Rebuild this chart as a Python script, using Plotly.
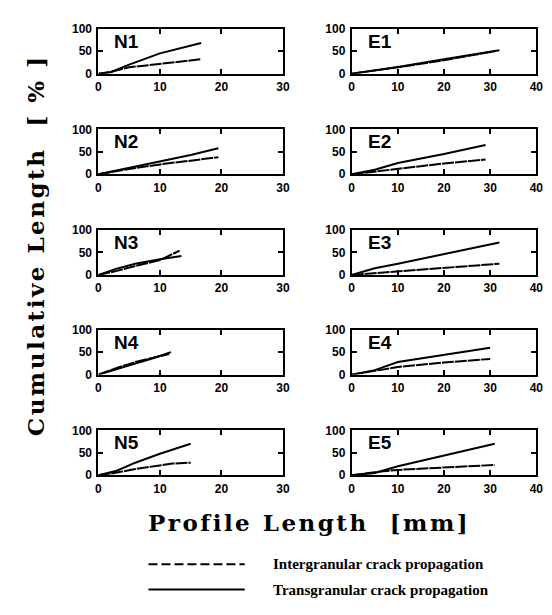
import plotly.graph_objects as go

# ---------------- data ----------------
panel_names = ["N1", "E1", "N2", "E2", "N3", "E3", "N4", "E4", "N5", "E5"]

N1_trans_x = [0, 2, 5, 10, 16.7]
N1_trans_y = [0, 3, 20, 45, 68]
N1_inter_x = [0, 2, 5, 10, 15, 16.7]
N1_inter_y = [0, 4, 14, 22, 29, 32]

N2_trans_x = [0, 5, 10, 15, 19.5]
N2_trans_y = [0, 14, 28, 43, 58]
N2_inter_x = [0, 5, 10, 15, 19.5]
N2_inter_y = [0, 12, 22, 31, 38]

N3_trans_x = [0, 3, 6, 10, 13.5]
N3_trans_y = [0, 14, 25, 35, 42]
N3_inter_x = [0, 3, 6, 10, 13.2]
N3_inter_y = [0, 9, 20, 33, 54]

N4_trans_x = [0, 3, 6, 9, 11.8]
N4_trans_y = [0, 12, 25, 37, 50]
N4_inter_x = [0, 3, 6, 9, 11.5]
N4_inter_y = [0, 15, 28, 38, 46]

N5_trans_x = [0, 3, 6, 10, 15]
N5_trans_y = [0, 10, 28, 48, 70]
N5_inter_x = [0, 3, 6, 10, 12, 15]
N5_inter_y = [0, 6, 14, 22, 26, 28]

E1_trans_x = [0, 10, 20, 32]
E1_trans_y = [0, 15, 32, 52]
E1_inter_x = [0, 10, 20, 31]
E1_inter_y = [0, 14, 30, 50]

E2_trans_x = [0, 5, 10, 20, 29]
E2_trans_y = [0, 10, 25, 45, 65]
E2_inter_x = [0, 5, 10, 20, 29]
E2_inter_y = [0, 6, 12, 24, 33]

E3_trans_x = [0, 5, 10, 20, 32]
E3_trans_y = [0, 15, 25, 47, 72]
E3_inter_x = [0, 10, 20, 32]
E3_inter_y = [0, 8, 16, 25]

E4_trans_x = [0, 5, 10, 20, 30]
E4_trans_y = [0, 10, 28, 44, 60]
E4_inter_x = [0, 10, 20, 30]
E4_inter_y = [0, 17, 27, 35]

E5_trans_x = [0, 5, 10, 20, 31]
E5_trans_y = [0, 5, 20, 44, 70]
E5_inter_x = [0, 5, 10, 20, 31]
E5_inter_y = [0, 7, 12, 18, 23]

N_ticks = [0, 10, 20, 30]
E_ticks = [0, 10, 20, 30, 40]
y_ticks = [0, 50, 100]

series = {
    "N1": (N1_trans_x, N1_trans_y, N1_inter_x, N1_inter_y),
    "N2": (N2_trans_x, N2_trans_y, N2_inter_x, N2_inter_y),
    "N3": (N3_trans_x, N3_trans_y, N3_inter_x, N3_inter_y),
    "N4": (N4_trans_x, N4_trans_y, N4_inter_x, N4_inter_y),
    "N5": (N5_trans_x, N5_trans_y, N5_inter_x, N5_inter_y),
    "E1": (E1_trans_x, E1_trans_y, E1_inter_x, E1_inter_y),
    "E2": (E2_trans_x, E2_trans_y, E2_inter_x, E2_inter_y),
    "E3": (E3_trans_x, E3_trans_y, E3_inter_x, E3_inter_y),
    "E4": (E4_trans_x, E4_trans_y, E4_inter_x, E4_inter_y),
    "E5": (E5_trans_x, E5_trans_y, E5_inter_x, E5_inter_y),
}

legend_labels = ["Intergranular crack propagation", "Transgranular crack propagation"]

# ---------------- layout geometry ----------------
W, H = 552, 615
col_x = {"N": (89, 277), "E": (347, 535)}
row_top = [14, 117, 220, 322, 425]
box_h = 46

fig = go.Figure()
layout = dict(
    width=W, height=H, margin=dict(l=0, r=0, t=0, b=0),
    paper_bgcolor="white", plot_bgcolor="white", showlegend=False,
    font=dict(family="Liberation Sans", color="black"),
)
annotations = []

tick_font = dict(family="Liberation Sans", size=12, color="black", weight="bold")

for i, name in enumerate(panel_names):
    n = i + 1
    xa = "xaxis" if n == 1 else f"xaxis{n}"
    ya = "yaxis" if n == 1 else f"yaxis{n}"
    xr = "x" if n == 1 else f"x{n}"
    yr = "y" if n == 1 else f"y{n}"
    kind = name[0]
    row = int(name[1]) - 1
    x0, x1 = col_x[kind]
    top = row_top[row]
    ticks = N_ticks if kind == "N" else E_ticks
    layout[xa] = dict(
        domain=[x0 / W, x1 / W], anchor=yr, range=[0, ticks[-1]],
        tickvals=ticks, ticks="inside", ticklen=5, tickwidth=2, tickcolor="black",
        showline=True, linewidth=2, linecolor="black", mirror="ticks",
        showgrid=False, zeroline=False, tickfont=tick_font, ticklabelstandoff=1,
    )
    layout[ya] = dict(
        domain=[1 - (top + box_h) / H, 1 - top / H], anchor=xr, range=[0, 100],
        tickvals=y_ticks, ticks="inside", ticklen=5, tickwidth=2, tickcolor="black",
        showline=True, linewidth=2, linecolor="black", mirror="ticks",
        showgrid=False, zeroline=False, tickfont=tick_font, ticklabelstandoff=2,
    )
    tx, ty, ix, iy = series[name]
    fig.add_trace(go.Scatter(x=tx, y=ty, mode="lines", xaxis=xr, yaxis=yr,
                             name=legend_labels[1],
                             line=dict(color="black", width=2)))
    fig.add_trace(go.Scatter(x=ix, y=iy, mode="lines", xaxis=xr, yaxis=yr,
                             name=legend_labels[0],
                             line=dict(color="black", width=2, dash="12px,1px")))
    annotations.append(dict(
        text=f"<b>{name}</b>", xref=f"{xr} domain", yref=f"{yr} domain",
        x=0.075, y=0.72, xanchor="left", yanchor="middle", showarrow=False,
        font=dict(family="Liberation Sans", size=19, color="black"),
    ))

title_font = dict(family="DejaVu Serif", size=23, color="black")
annotations.append(dict(
    text='<b><span style="letter-spacing:2.5px">Cumulative Length  [ % ]</span></b>',
    xref="paper", yref="paper", x=25 / W, y=1 - 236 / H, textangle=-90,
    showarrow=False, xanchor="center", yanchor="middle", font=title_font,
))
annotations.append(dict(
    text='<b><span style="letter-spacing:2.5px">Profile Length  [mm]</span></b>',
    xref="paper", yref="paper", x=303 / W, y=1 - 519 / H,
    showarrow=False, xanchor="center", yanchor="middle", font=title_font,
))

# legend (drawn as decoration)
legend_font = dict(family="Liberation Serif", size=15, color="black")
shapes = []
leg_y = [562, 588]
dashes = ["9px,4px", "solid"]
for k in range(2):
    shapes.append(dict(type="line", xref="paper", yref="paper",
                       x0=140 / W, x1=238 / W, y0=1 - leg_y[k] / H, y1=1 - leg_y[k] / H,
                       line=dict(color="black", width=2, dash=dashes[k])))
    annotations.append(dict(
        text=f"<b>{legend_labels[k]}</b>", xref="paper", yref="paper",
        x=265 / W, y=1 - leg_y[k] / H, xanchor="left", yanchor="middle",
        showarrow=False, font=legend_font,
    ))

layout["annotations"] = annotations
layout["shapes"] = shapes
fig.update_layout(**layout)
fig.write_html("out.html")
